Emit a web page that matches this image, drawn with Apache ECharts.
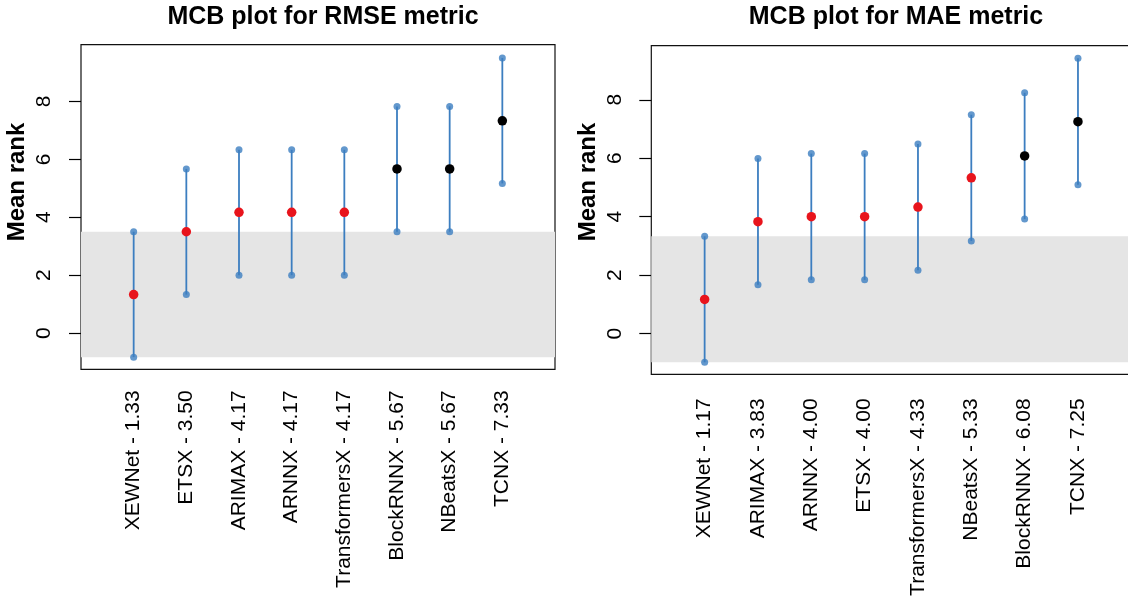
<!DOCTYPE html>
<html><head><meta charset="utf-8">
<script src="https://cdn.jsdelivr.net/npm/echarts@6/dist/echarts.min.js"></script>
<style>html,body{margin:0;padding:0;background:#fff}#c{width:1128px;height:597px}</style>
</head><body><div id="c"></div>
<script>
// ---- RMSE panel data ----
const rmseModels = ['XEWNet','ETSX','ARIMAX','ARNNX','TransformersX','BlockRNNX','NBeatsX','TCNX'];
const rmseMean   = [1.33, 3.50, 4.17, 4.17, 4.17, 5.67, 5.67, 7.33];
const rmseLower  = [-0.83, 1.33, 2.00, 2.00, 2.00, 3.50, 3.50, 5.17];
const rmseUpper  = [3.50, 5.67, 6.33, 6.33, 6.33, 7.83, 7.83, 9.50];
const rmseWorse  = [false, false, false, false, false, true, true, true];
const rmseBand   = [-0.83, 3.50];
const rmseYRange = [-1.25, 9.96];

// ---- MAE panel data ----
const maeModels = ['XEWNet','ARIMAX','ARNNX','ETSX','TransformersX','NBeatsX','BlockRNNX','TCNX'];
const maeMean   = [1.17, 3.83, 4.00, 4.00, 4.33, 5.33, 6.08, 7.25];
const maeLower  = [-0.98, 1.67, 1.84, 1.84, 2.17, 3.17, 3.92, 5.09];
const maeUpper  = [3.33, 5.99, 6.16, 6.16, 6.49, 7.49, 8.24, 9.42];
const maeWorse  = [false, false, false, false, false, false, true, true];
const maeBand   = [-0.98, 3.33];
const maeYRange = [-1.39, 9.85];

const yTickValues = [0, 2, 4, 6, 8];
const xTickValues = [1, 2, 3, 4, 5, 6, 7, 8];

const BLUE = '#3c7ec0', RED = '#e8141c', BLACK = '#000000';
const FONT = '"Liberation Sans", Arial, sans-serif';

const panels = [
  {title:'MCB plot for RMSE metric', models:rmseModels, mean:rmseMean, lower:rmseLower, upper:rmseUpper, worse:rmseWorse, band:rmseBand, yr:rmseYRange,
   grid:{left:81, top:44.7, width:474, height:324.6}, titleX:318, ylabX:17.5, xMargin:21},
  {title:'MCB plot for MAE metric', models:maeModels, mean:maeMean, lower:maeLower, upper:maeUpper, worse:maeWorse, band:maeBand, yr:maeYRange,
   grid:{left:651.3, top:45.7, width:480, height:328.6}, titleX:891, ylabX:588, xMargin:24}
];

const option = {
  animation:false, backgroundColor:'#fff',
  title:[], grid:[], xAxis:[], yAxis:[], series:[], graphic:[]
};

panels.forEach((p, g) => {
  const labels = p.models.map((m, i) => m + ' - ' + p.mean[i].toFixed(2));
  option.title.push({text:p.title, left:p.titleX, top:0, textAlign:'center',
    textStyle:{fontFamily:FONT, fontWeight:'bold', fontSize:25, color:'#000'}});
  option.grid.push(Object.assign({show:true, borderColor:'#111', borderWidth:1.2, backgroundColor:'transparent',
    containLabel:false, outerBoundsMode:'none'}, p.grid));
  option.xAxis.push({type:'value', gridIndex:g, min:0, max:9,
    axisLine:{show:false}, splitLine:{show:false},
    axisTick:{show:true, length:11, customValues:xTickValues, lineStyle:{color:'#000', width:1.2}},
    axisLabel:{customValues:xTickValues, rotate:90, margin:p.xMargin, fontSize:21, fontFamily:FONT, color:'#000',
      formatter:v => labels[Math.round(v) - 1] || ''}});
  option.yAxis.push({type:'value', gridIndex:g, min:p.yr[0], max:p.yr[1],
    axisLine:{show:false}, splitLine:{show:false},
    axisTick:{show:true, length:12, customValues:yTickValues, lineStyle:{color:'#000', width:1.2}},
    axisLabel:{customValues:yTickValues, rotate:90, margin:26, fontSize:21, fontFamily:FONT, color:'#000'}});
  // shaded band
  option.series.push({type:'custom', xAxisIndex:g, yAxisIndex:g, z:1, silent:true,
    data:[[0, p.band[0], p.band[1]]],
    renderItem:(params, api) => {
      const cs = params.coordSys;
      const y1 = api.coord([0, api.value(1)])[1], y2 = api.coord([0, api.value(2)])[1];
      return {type:'rect', shape:{x:cs.x, y:y2, width:cs.width, height:y1 - y2}, style:{fill:'#e5e5e5'}};
    }});
  // interval lines
  option.series.push({type:'custom', xAxisIndex:g, yAxisIndex:g, z:2, silent:true,
    data:p.models.map((m, i) => [i + 1, p.lower[i], p.upper[i]]),
    encode:{x:0, y:[1, 2]},
    renderItem:(params, api) => {
      const a = api.coord([api.value(0), api.value(1)]), b = api.coord([api.value(0), api.value(2)]);
      return {type:'line', shape:{x1:a[0], y1:a[1], x2:b[0], y2:b[1]}, style:{stroke:BLUE, lineWidth:1.8}};
    }});
  // lower / upper end points
  option.series.push({type:'scatter', xAxisIndex:g, yAxisIndex:g, z:3, symbolSize:7, silent:true,
    itemStyle:{color:BLUE}, data:p.models.map((m, i) => [i + 1, p.lower[i]])});
  option.series.push({type:'scatter', xAxisIndex:g, yAxisIndex:g, z:3, symbolSize:7, silent:true,
    itemStyle:{color:BLUE}, data:p.models.map((m, i) => [i + 1, p.upper[i]])});
  // mean ranks
  option.series.push({type:'scatter', xAxisIndex:g, yAxisIndex:g, z:4, symbolSize:9.5, silent:true,
    data:p.models.map((m, i) => ({value:[i + 1, p.mean[i]], itemStyle:{color:p.worse[i] ? BLACK : RED, opacity:1}}))});
  option.graphic.push({type:'text', x:p.ylabX, y:182, rotation:Math.PI / 2,
    style:{text:'Mean rank', font:'bold 24px ' + FONT, fill:'#000', align:'center', verticalAlign:'middle'}});
});

const chart = echarts.init(document.getElementById('c'), null, {renderer:'canvas'});
chart.setOption(option);
</script>
</body></html>
